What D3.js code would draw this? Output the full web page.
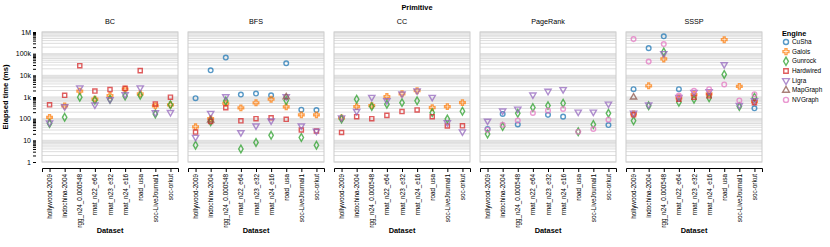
<!DOCTYPE html>
<html lang="en">
<head>
    <meta charset="UTF-8">
    <title>Primitive elapsed time</title>
    <script src="https://cdnjs.cloudflare.com/ajax/libs/d3/7.8.5/d3.min.js"></script>
    <style>
        body { margin: 0; background: #fff; }
        svg { display: block; font-family: "Liberation Sans", Arial, sans-serif; }
        .grid line { stroke: #ddd; stroke-width: 1; }
        .frame { fill: none; stroke: #ccc; stroke-width: 1; }
        .axis path, .axis line { stroke: #000; stroke-width: 1; }
        .mark { fill: none; stroke-width: 1.4; stroke-opacity: 0.75; }
    </style>
</head>
<body>
<svg width="830" height="247"></svg>
<script>
    const primitives = ["BC", "BFS", "CC", "PageRank", "SSSP"];
    const datasets = ["hollywood-2009", "indochina-2004", "rgg_n24_0.000548", "rmat_n22_e64",
        "rmat_n23_e32", "rmat_n24_e16", "road_usa", "soc-LiveJournal1", "soc-orkut"];
    const engines = ["CuSha", "Galois", "Gunrock", "Hardwired", "Ligra", "MapGraph", "NVGraph"];
    const yTicks = [1, 10, 100, 1e3, 1e4, 1e5, 1e6];

    // elapsed time (ms), one value per dataset, null = no result
    const bcTimes = {
        Galois:    [115, 390, 1870, 790, 1170, 2300, 1400, 390, 435],
        Gunrock:   [60, 115, 980, 710, 790, 1100, 1200, 165, 435],
        Hardwired: [435, 1200, 28000, 1870, 2200, 2500, 16500, 480, 980],
        Ligra:     [65, 360, 2700, 435, 760, 1300, 2700, 190, 195]
    };
    const bfsTimes = {
        CuSha:     [880, 17000, 66000, 1300, 1450, 1200, 36000, 260, 250],
        Galois:    [42, 100, 510, 315, 540, 790, 350, 150, 150],
        Gunrock:   [6, 72, 650, 4, 8, 17, 690, 13.5, 6],
        Hardwired: [24, 75, 320, 80, 100, 110, 93, 30, 27],
        Ligra:     [14, 180, 1050, 23, 47, 80, 1050, 47, 27],
        MapGraph:  [null, 85, null, null, null, null, 1000, null, null]
    };
    const ccTimes = {
        Galois:    [108, 360, 400, 1050, 1400, 1950, 320, 360, 550],
        Gunrock:   [96, 790, 360, 465, 550, 665, 190, 96, 220],
        Hardwired: [23, 124, 100, 142, 212, 252, 124, 46, 47],
        Ligra:     [111, 220, 980, 690, 1400, 1950, 980, 67, 25]
    };
    const pagerankTimes = {
        CuSha:     [33, 165, 54, null, 150, 124, null, null, 51],
        Gunrock:   [19.5, 43, 177, 325, 400, 515, 25, 54, 177],
        Ligra:     [78, 230, 280, 1260, 1870, 2230, 205, 205, 480],
        NVGraph:   [31, 52, 83, 183, 235, 280, 25, 33, 90]
    };
    const ssspTimes = {
        CuSha:     [2300, 180000, 630000, 2300, null, null, null, null, 300],
        Galois:    [165, 3300, 57000, 920, 1300, 1400, 440000, 3100, 620],
        Gunrock:   [80, 390, 120000, 570, 790, 920, 11000, 360, 980],
        Hardwired: [150, null, null, 790, 980, 1140, null, null, 550],
        Ligra:     [183, 435, 102000, 980, 1670, 1800, 31600, 415, 690],
        MapGraph:  [980, null, null, null, null, null, null, null, null],
        NVGraph:   [470000, 43000, 277000, 1170, 1950, 2300, 3800, 690, 1350]
    };
    const timesByPrimitive = [bcTimes, bfsTimes, ccTimes, pagerankTimes, ssspTimes];

    const colors = ["#1f77b4", "#ff7f0e", "#2ca02c", "#d62728", "#9467bd", "#8c564b", "#e377c2"];
    const shapes = [d3.symbolCircle, d3.symbolCross, d3.symbolDiamond, d3.symbolSquare,
        d3.symbolTriangle, d3.symbolTriangle, d3.symbolCircle];
    const flipped = { Ligra: true };

    const color = d3.scaleOrdinal().domain(engines).range(colors);
    const shape = d3.scaleOrdinal().domain(engines).range(shapes);

    const svg = d3.select("svg");
    const plotTop = 32, plotBottom = 162, panelW = 136, panelStep = 146, left0 = 42;

    const y = d3.scaleLog().domain([1, 1e6]).range([plotBottom, plotTop]);
    const x = d3.scalePoint().domain(datasets).range([0, panelW]).padding(0.5);

    // every 1..9 multiple per decade, used for grid and axis ticks
    const minor = [];
    for (let k = 0; k < 6; k++) for (let m = 1; m < 10; m++) minor.push(m * Math.pow(10, k));
    minor.push(1e6);

    const symbolPath = (e, size) => d3.symbol().type(shape(e)).size(size)();

    svg.append("text")
        .attr("x", 417).attr("y", 9.5)
        .attr("text-anchor", "middle")
        .attr("font-size", 7.4).attr("font-weight", "bold")
        .text("Primitive");

    primitives.forEach((p, i) => {
        const g = svg.append("g").attr("transform", `translate(${left0 + i * panelStep},0)`);

        g.append("text")
            .attr("x", panelW / 2).attr("y", 24)
            .attr("text-anchor", "middle")
            .attr("font-size", 7.2)
            .text(p);

        g.append("g").attr("class", "grid")
            .selectAll("line").data(minor).enter().append("line")
            .attr("x1", 0).attr("x2", panelW)
            .attr("y1", d => y(d)).attr("y2", d => y(d));

        g.append("rect").attr("class", "frame")
            .attr("x", 0).attr("y", plotTop).attr("width", panelW).attr("height", plotBottom - plotTop);

        const xAxis = g.append("g").attr("class", "axis")
            .attr("transform", `translate(0,${plotBottom + 6})`)
            .call(d3.axisBottom(x).tickSize(4).tickSizeOuter(4));
        xAxis.selectAll("text")
            .attr("font-size", 6.4)
            .attr("font-family", null)
            .attr("transform", "rotate(-90)")
            .attr("text-anchor", "end")
            .attr("x", -6).attr("y", 0).attr("dy", "0.32em");

        g.append("text")
            .attr("x", panelW / 2).attr("y", 232.5)
            .attr("text-anchor", "middle")
            .attr("font-size", 7.4).attr("font-weight", "bold")
            .text("Dataset");

        if (i === 0) {
            const yAxis = g.append("g").attr("class", "axis")
                .attr("transform", "translate(-6,0)")
                .call(d3.axisLeft(y).tickValues(minor).tickSize(3).tickSizeOuter(0)
                    .tickFormat(d => yTicks.includes(d) ? d3.format("~s")(d) : ""));
            yAxis.selectAll("text").attr("font-size", 7).attr("font-family", null).attr("x", -5);
            yAxis.select(".domain").remove();

            g.append("text")
                .attr("transform", `translate(-34,${(plotTop + plotBottom) / 2}) rotate(-90)`)
                .attr("text-anchor", "middle")
                .attr("font-size", 7.6).attr("font-weight", "bold")
                .text("Elapsed time (ms)");
        }

        const rows = [];
        const times = timesByPrimitive[i];
        engines.forEach(e => {
            if (!times[e]) return;
            times[e].forEach((v, j) => { if (v != null) rows.push({ engine: e, dataset: datasets[j], value: v }); });
        });

        g.selectAll(".mark").data(rows).enter().append("path")
            .attr("class", "mark")
            .attr("d", d => symbolPath(d.engine, 17))
            .attr("stroke", d => color(d.engine))
            .attr("transform", d => `translate(${x(d.dataset)},${y(d.value)})` + (flipped[d.engine] ? " rotate(180)" : ""));
    });

    // legend
    const legend = svg.append("g").attr("transform", "translate(782,0)");
    legend.append("text")
        .attr("x", 0).attr("y", 35.5)
        .attr("font-size", 7.3).attr("font-weight", "bold")
        .text("Engine");
    const item = legend.selectAll(".item").data(engines).enter().append("g")
        .attr("transform", (d, k) => `translate(0,${42 + k * 9.65})`);
    item.append("path")
        .attr("class", "mark")
        .attr("d", d => symbolPath(d, 20))
        .attr("stroke", d => color(d))
        .attr("transform", d => "translate(4,0)" + (flipped[d] ? " rotate(180)" : ""));
    item.append("text")
        .attr("x", 10).attr("y", 0).attr("dy", "0.33em")
        .attr("font-size", 6.4)
        .text(d => d);
</script>
</body>
</html>
